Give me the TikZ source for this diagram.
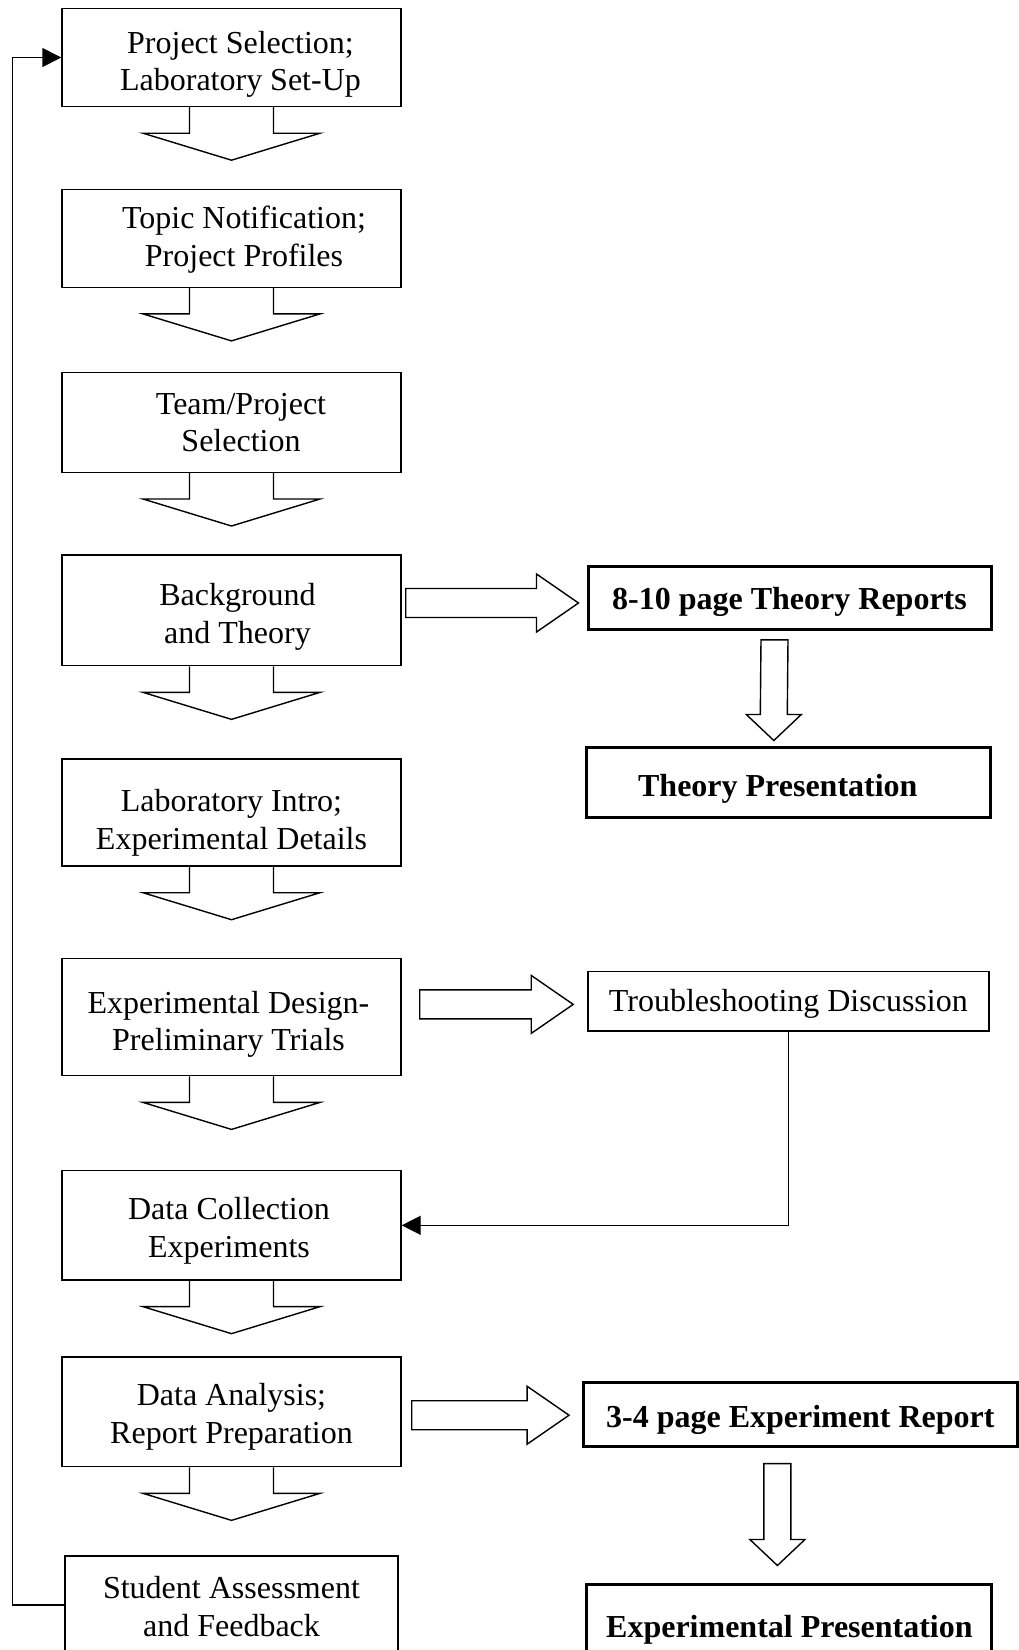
\documentclass[tikz,border=0pt]{standalone}
\usepackage{fontspec}
\setmainfont{Liberation Serif}
\usetikzlibrary{arrows.meta,calc,positioning}

\begin{document}
\begin{tikzpicture}[x=1pt, y=-1pt, line width=1.4pt, >={Triangle[length=19pt,width=19pt]}]
\tikzstyle{stage} = [draw, rectangle, minimum width=339pt, align=center, inner sep=0pt, font=\fontsize{32}{37.5}\selectfont]
\tikzstyle{product} = [draw, rectangle, line width=3pt, align=center, inner sep=0pt, font=\bfseries\fontsize{32}{37.5}\selectfont]
\tikzstyle{note} = [draw, rectangle, align=center, inner sep=0pt, font=\fontsize{32}{37.5}\selectfont]
\tikzstyle{textdrop} = [execute at begin node={\rule{0pt}{#1}}]   % pushes the text a bit down in its box
\tikzstyle{textright} = [execute at begin node={\hspace*{#1}}]   % and a bit sideways

% open arrow hanging under a stage box
\def\stagearrow#1{
\draw (#1.south) ++(-42,0) -- ++(0,26) -- ++(-46.5,0) -- ++(88.5,27) -- ++(88.5,-27) -- ++(-46.5,0) -- ++(0,-26);
}
% hollow block arrows, tail point and tip point
\def\sidearrow#1#2{
\draw (#1) ++(0,-14.5) -- ($(#2)+(-42,-14.5)$) -- ++(0,-14.5) -- (#2) -- ++(-42,29) -- ++(0,-14.5) -- ($(#1)+(0,14.5)$) -- cycle;
}
\def\droparrow#1#2{
\draw (#1) ++(-13.5,0) -- ($(#2)+(-13.5,-26)$) -- ++(-14,0) -- (#2) -- ++(27.5,-26) -- ++(-14,0) -- ($(#1)+(13.5,0)$) -- cycle;
}

    \useasboundingbox (0,0) rectangle (1019,1650);

    % the course stages, top to bottom
    \node [stage, textdrop=73pt, textright=18pt, minimum height=98pt] (select) at (231.5,57.5) {Project Selection;\\Laboratory Set-Up};
    \node [stage, textdrop=62.7pt, textright=25pt, below of = select, node distance=180.7pt, minimum height=98pt] (topic) {Topic Notification;\\Project Profiles};
    \node [stage, textright=19pt, below of = topic, node distance=184.3pt, minimum height=99.6pt] (team) {Team/Project\\Selection};
    \node [stage, textdrop=73pt, textright=12pt, below of = team, node distance=187.8pt, minimum height=110.7pt] (bg) {Background\\and Theory};
    \node [stage, textdrop=80.5pt, below of = bg, node distance=202.2pt, minimum height=107pt] (intro) {Laboratory Intro;\\Experimental Details};
    \node [stage, textdrop=74.3pt, textright=-6pt, below of = intro, node distance=204.5pt, minimum height=117.4pt] (design) {Experimental Design-\\Preliminary Trials};
    \node [stage, textdrop=71pt, textright=-5pt, below of = design, node distance=208.3pt, minimum height=109.3pt] (data) {Data Collection\\Experiments};
    \node [stage, textdrop=70pt, below of = data, node distance=186.5pt, minimum height=109.7pt] (analysis) {Data Analysis;\\Report Preparation};
    \node [stage, textdrop=62.7pt, below of = analysis, node distance=193.2pt, minimum height=98pt, minimum width=333pt] (assess) {Student Assessment\\and Feedback};

    % what the students hand in
    \node [product, textdrop=30pt, minimum width=403pt, minimum height=62.6pt] (reports) at (789.5,598) {8-10 page Theory Reports};
    \node [product, textdrop=35pt, textright=-22pt, minimum width=404pt, minimum height=70pt] (theorypres) at (788.8,782) {Theory Presentation};
    \node [note, textdrop=28pt, minimum width=401pt, minimum height=59.3pt] (trouble) at (788.4,1001.4) {Troubleshooting Discussion};
    \node [product, textdrop=33pt, minimum width=433.5pt, minimum height=63.7pt] (expreport) at (800.3,1414.2) {3-4 page Experiment Report};
    \node [product, textdrop=37pt, minimum width=405pt, minimum height=76pt] (exppres) at (789.4,1622) {Experimental Presentation};

    \stagearrow{select}
    \stagearrow{topic}
    \stagearrow{team}
    \stagearrow{bg}
    \stagearrow{intro}
    \stagearrow{design}
    \stagearrow{data}
    \stagearrow{analysis}

    \coordinate (a1) at ($(bg.east |- reports.west)+(4,5)$);
    \coordinate (h1) at ($(reports.west)+(-8,5)$);
    \coordinate (a2) at ($(design.east |- trouble.west)+(18,3)$);
    \coordinate (h2) at ($(trouble.west)+(-14,3)$);
    \coordinate (a3) at ($(analysis.east |- expreport.west)+(10,1)$);
    \coordinate (h3) at ($(expreport.west)+(-13,1)$);
    \sidearrow{a1}{h1}
    \sidearrow{a2}{h2}
    \sidearrow{a3}{h3}

    \coordinate (d1) at ($(reports.south)+(-15,9)$);
    \coordinate (e1) at ($(theorypres.north)+(-15,-5)$);
    \coordinate (d2) at ($(expreport.south)+(-23,16)$);
    \coordinate (e2) at ($(exppres.north)+(-12,-17)$);
    \droparrow{d1}{e1}
    \droparrow{d2}{e2}

    % feedback lines
    \draw [->] (trouble.south) |- (data.east);
    \coordinate (back) at ($(assess.west)+(-52,0)$);
    \draw [->] (assess.west) -- (back) |- (select.west);

\end{tikzpicture}
\end{document}
